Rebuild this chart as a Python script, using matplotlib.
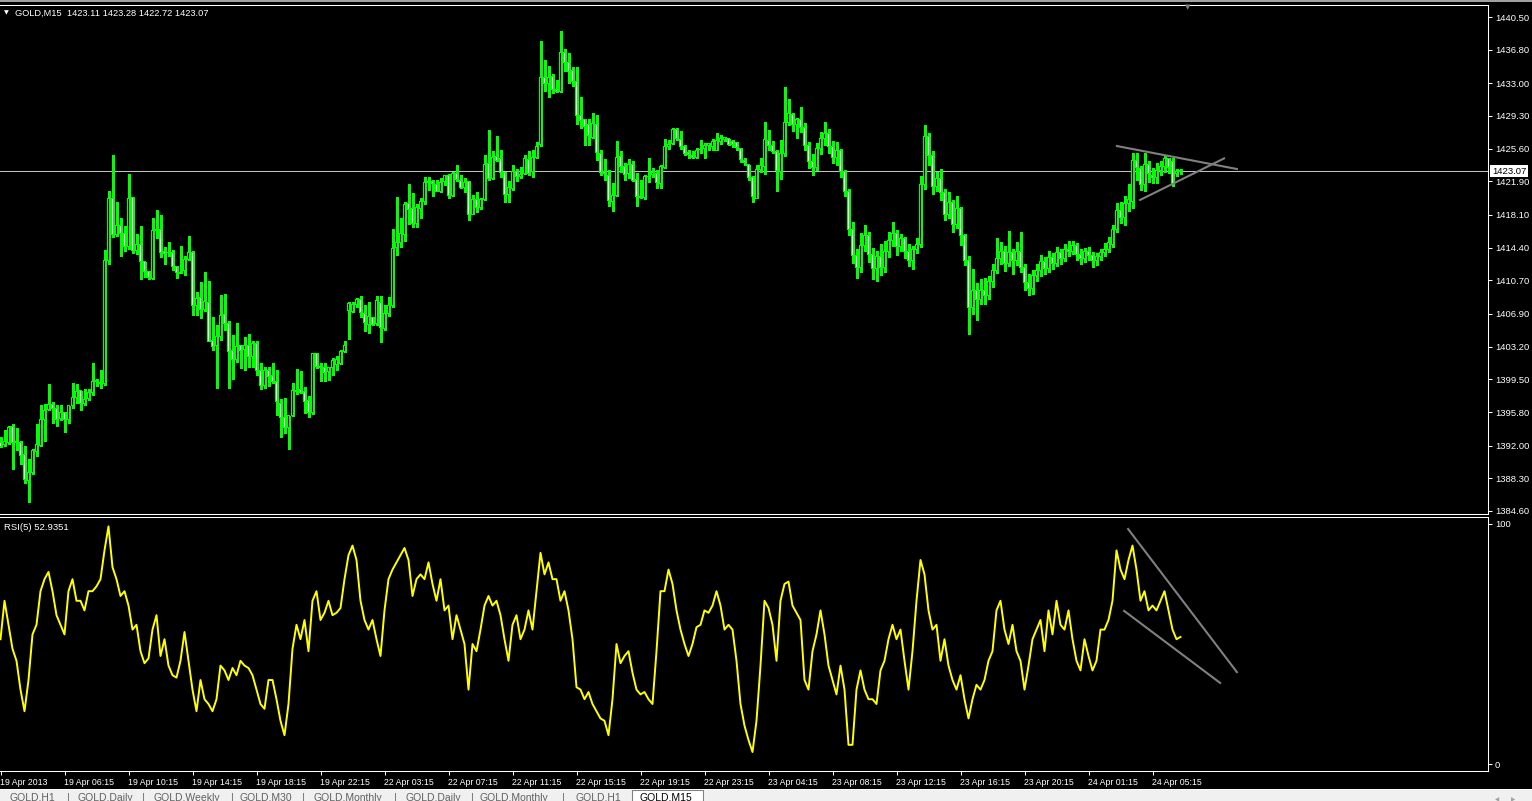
import numpy as np
import matplotlib
matplotlib.use('Agg')
import matplotlib.pyplot as plt
import matplotlib.transforms as mtransforms
from matplotlib.patches import Rectangle
from matplotlib.lines import Line2D

plt.rcParams['font.family'] = ['Liberation Sans', 'DejaVu Sans']

# ---- GOLD M15 candles (one entry per bar, oldest first) ----
opens = [
    1392.4, 1392.1, 1392.4, 1394.2, 1392.4, 1392.4, 1391.0, 1388.1, 1389.0, 1391.3,
    1392.0, 1394.9, 1396.1, 1396.7, 1396.2, 1395.1, 1395.7, 1395.0, 1396.5, 1397.5,
    1398.2, 1396.8, 1397.3, 1398.0, 1399.2, 1399.1, 1399.0, 1413.0, 1420.0, 1415.9,
    1416.9, 1416.0, 1414.5, 1420.1, 1414.1, 1414.8, 1412.8, 1411.7, 1410.9, 1416.4,
    1416.4, 1414.0, 1413.8, 1413.9, 1412.3, 1411.6, 1411.8, 1413.1, 1413.8, 1407.8,
    1408.8, 1407.4, 1408.2, 1403.9, 1403.3, 1404.4, 1406.8, 1405.8, 1402.8, 1401.8,
    1403.3, 1402.9, 1403.3, 1402.1, 1403.6, 1400.5, 1398.8, 1400.5, 1399.9, 1399.2,
    1396.8, 1395.2, 1394.0, 1395.4, 1398.2, 1398.3, 1398.1, 1397.1, 1395.7, 1402.4,
    1400.9, 1400.8, 1400.4, 1400.8, 1401.2, 1401.3, 1402.7, 1407.3, 1407.2, 1408.0,
    1408.5, 1407.0, 1405.7, 1406.5, 1405.8, 1408.2, 1405.2, 1406.9, 1407.9, 1414.4,
    1415.0, 1415.9, 1419.4, 1418.8, 1417.1, 1418.8, 1419.6, 1421.8, 1421.9, 1421.6,
    1420.8, 1421.9, 1422.6, 1420.3, 1422.8, 1422.0, 1421.2, 1421.9, 1418.2, 1419.8,
    1418.9, 1419.9, 1423.9, 1422.2, 1424.7, 1424.5, 1422.9, 1420.4, 1421.1, 1423.0,
    1422.4, 1422.8, 1424.4, 1423.0, 1424.6, 1426.1, 1433.7, 1433.0, 1433.8, 1432.3,
    1432.1, 1436.5, 1435.3, 1434.4, 1433.2, 1429.4, 1428.9, 1428.3, 1426.9, 1428.3,
    1425.1, 1423.0, 1422.6, 1419.6, 1420.3, 1424.7, 1423.6, 1422.8, 1423.8, 1422.1,
    1420.2, 1420.1, 1422.5, 1422.7, 1422.8, 1421.7, 1423.5, 1425.9, 1426.2, 1427.8,
    1426.6, 1425.9, 1425.2, 1424.8, 1424.6, 1425.5, 1425.6, 1426.0, 1425.8, 1425.4,
    1426.4, 1426.6, 1426.7, 1426.4, 1426.3, 1425.6, 1424.3, 1423.8, 1422.3, 1420.0,
    1423.3, 1423.6, 1426.5, 1426.0, 1425.3, 1423.0, 1425.0, 1428.6, 1429.5, 1428.3,
    1428.9, 1428.0, 1426.0, 1424.2, 1423.5, 1425.6, 1426.8, 1427.3, 1425.8, 1424.6,
    1425.4, 1423.0, 1420.8, 1416.5, 1413.5, 1412.2, 1414.6, 1415.8, 1413.6, 1412.0,
    1413.4, 1412.1, 1414.0, 1415.2, 1416.0, 1414.5, 1415.4, 1414.0, 1413.0, 1414.2,
    1414.8, 1421.5, 1427.0, 1424.8, 1421.3, 1422.2, 1420.6, 1418.2, 1419.5, 1417.0,
    1418.8, 1415.8, 1413.0, 1407.6, 1409.6, 1408.5, 1409.5, 1409.0, 1410.6, 1411.8,
    1413.2, 1414.0, 1412.6, 1413.8, 1413.0, 1414.0, 1412.2, 1410.5, 1409.8, 1411.3,
    1411.8, 1412.8, 1412.0, 1413.3, 1412.6, 1413.8, 1413.2, 1414.2, 1414.0, 1414.6,
    1413.6, 1413.2, 1414.0, 1413.5, 1412.9, 1413.4, 1413.8, 1414.2, 1414.8, 1416.5,
    1418.6, 1417.8, 1419.4, 1419.6, 1424.3, 1423.4, 1421.5, 1423.8, 1422.6, 1422.3,
    1423.1, 1423.6, 1424.5, 1424.2, 1422.8, 1423.11,
]
highs = [
    1393.0, 1393.8, 1394.2, 1394.5, 1394.0, 1392.5, 1391.9, 1390.5, 1391.6, 1394.5,
    1396.6, 1396.7, 1399.0, 1396.9, 1396.6, 1396.6, 1395.8, 1396.5, 1399.1, 1399.0,
    1398.2, 1398.4, 1398.4, 1401.3, 1399.5, 1400.6, 1414.1, 1420.8, 1424.9, 1419.6,
    1417.8, 1416.9, 1422.7, 1420.1, 1416.0, 1416.9, 1412.8, 1411.8, 1417.8, 1418.7,
    1418.1, 1414.5, 1415.0, 1414.1, 1412.3, 1414.6, 1413.5, 1415.7, 1414.0, 1409.4,
    1410.5, 1411.7, 1410.6, 1406.6, 1405.7, 1409.0, 1409.2, 1406.1, 1404.5, 1405.9,
    1403.4, 1404.3, 1404.6, 1403.8, 1403.8, 1401.4, 1400.9, 1400.9, 1401.4, 1400.5,
    1397.3, 1397.4, 1395.4, 1399.1, 1400.7, 1400.4, 1398.6, 1397.6, 1402.5, 1402.5,
    1401.3, 1401.3, 1400.9, 1401.9, 1402.1, 1402.8, 1403.8, 1408.2, 1408.2, 1408.7,
    1408.9, 1407.9, 1408.2, 1406.6, 1408.9, 1408.9, 1407.9, 1408.8, 1416.5, 1420.1,
    1417.7, 1419.6, 1421.6, 1420.6, 1419.3, 1420.0, 1422.4, 1422.4, 1422.1, 1422.0,
    1422.3, 1422.6, 1422.7, 1423.0, 1423.8, 1422.6, 1422.3, 1421.9, 1420.4, 1420.7,
    1420.0, 1424.9, 1427.7, 1425.3, 1427.0, 1425.5, 1423.0, 1421.9, 1423.8, 1423.3,
    1423.5, 1424.9, 1425.3, 1425.5, 1426.4, 1437.8, 1435.6, 1435.0, 1434.1, 1433.4,
    1438.9, 1436.9, 1436.4, 1434.9, 1434.8, 1431.4, 1429.0, 1429.0, 1429.6, 1429.4,
    1425.4, 1424.4, 1423.2, 1421.7, 1426.5, 1425.3, 1424.0, 1424.4, 1424.2, 1422.8,
    1422.1, 1422.6, 1424.5, 1423.4, 1423.2, 1423.8, 1426.7, 1426.6, 1427.9, 1427.9,
    1427.6, 1426.0, 1425.4, 1425.3, 1425.7, 1426.6, 1426.3, 1426.3, 1426.7, 1427.4,
    1427.2, 1426.9, 1426.7, 1426.6, 1426.4, 1425.7, 1424.6, 1423.8, 1422.5, 1423.8,
    1424.5, 1428.6, 1427.7, 1426.5, 1425.4, 1426.6, 1432.6, 1431.2, 1429.6, 1429.1,
    1430.3, 1428.5, 1426.4, 1425.0, 1426.2, 1427.5, 1428.6, 1427.8, 1426.5, 1426.4,
    1425.6, 1423.2, 1421.0, 1417.3, 1414.3, 1416.1, 1417.0, 1416.2, 1414.4, 1414.0,
    1414.8, 1415.1, 1416.2, 1417.3, 1416.4, 1416.0, 1415.6, 1414.8, 1414.6, 1415.5,
    1422.5, 1428.3, 1427.4, 1425.3, 1423.0, 1423.3, 1421.0, 1420.7, 1419.8, 1420.2,
    1419.0, 1416.0, 1413.4, 1412.0, 1410.4, 1410.8, 1411.0, 1411.2, 1412.5, 1415.5,
    1415.0, 1414.6, 1416.3, 1414.3, 1415.0, 1416.2, 1412.6, 1411.4, 1411.9, 1412.6,
    1413.6, 1413.3, 1414.0, 1413.8, 1414.5, 1414.2, 1414.8, 1415.1, 1415.2, 1414.9,
    1414.2, 1414.4, 1414.5, 1413.9, 1413.8, 1414.3, 1414.9, 1415.6, 1417.0, 1419.4,
    1419.6, 1420.3, 1421.6, 1425.1, 1425.1, 1423.6, 1425.1, 1424.2, 1423.4, 1424.0,
    1424.2, 1424.8, 1424.6, 1424.5, 1423.3, 1423.28,
]
lows = [
    1391.8, 1392.0, 1392.2, 1389.3, 1391.5, 1389.9, 1387.8, 1385.6, 1388.8, 1390.8,
    1391.9, 1392.5, 1396.0, 1394.6, 1394.2, 1394.9, 1393.5, 1394.6, 1396.3, 1396.8,
    1396.0, 1396.6, 1397.2, 1397.7, 1398.7, 1398.5, 1398.9, 1412.6, 1415.6, 1415.7,
    1413.4, 1414.0, 1414.3, 1413.8, 1413.7, 1410.8, 1411.1, 1410.8, 1410.8, 1415.5,
    1413.3, 1412.6, 1413.4, 1411.9, 1411.0, 1411.5, 1411.3, 1413.0, 1406.8, 1406.8,
    1406.4, 1407.2, 1403.8, 1402.8, 1398.5, 1404.0, 1405.1, 1398.5, 1399.5, 1401.5,
    1400.8, 1400.6, 1400.9, 1400.9, 1400.0, 1398.4, 1398.5, 1398.7, 1399.1, 1395.5,
    1393.0, 1393.4, 1391.6, 1395.3, 1397.8, 1397.9, 1395.7, 1395.2, 1395.6, 1400.8,
    1399.3, 1399.3, 1399.4, 1400.0, 1400.6, 1401.2, 1402.6, 1404.1, 1407.1, 1407.7,
    1406.6, 1405.0, 1404.7, 1405.6, 1405.7, 1403.7, 1405.1, 1406.7, 1407.7, 1413.6,
    1414.5, 1415.2, 1417.1, 1416.7, 1416.7, 1417.7, 1419.3, 1420.9, 1420.2, 1420.8,
    1420.7, 1421.5, 1420.0, 1420.2, 1421.9, 1421.1, 1420.7, 1417.5, 1418.2, 1418.4,
    1418.8, 1419.8, 1422.1, 1422.2, 1424.2, 1422.4, 1419.6, 1419.6, 1420.9, 1421.9,
    1422.3, 1422.7, 1422.6, 1422.4, 1424.5, 1425.9, 1432.1, 1431.4, 1431.9, 1432.0,
    1432.0, 1434.4, 1433.0, 1432.7, 1428.4, 1427.9, 1426.0, 1426.0, 1426.8, 1424.3,
    1422.6, 1422.1, 1419.1, 1418.6, 1420.2, 1423.0, 1422.0, 1422.3, 1421.9, 1419.1,
    1420.0, 1419.9, 1421.8, 1422.4, 1421.1, 1421.1, 1423.4, 1425.6, 1426.1, 1426.6,
    1425.6, 1424.9, 1424.5, 1424.5, 1424.5, 1425.1, 1424.5, 1425.5, 1425.5, 1425.4,
    1426.1, 1426.5, 1426.0, 1425.8, 1425.5, 1424.1, 1423.7, 1422.1, 1419.6, 1420.0,
    1423.0, 1422.7, 1425.5, 1425.1, 1420.8, 1422.2, 1424.8, 1428.3, 1427.6, 1426.8,
    1427.5, 1425.5, 1423.4, 1422.6, 1423.2, 1425.0, 1426.0, 1425.1, 1424.0, 1423.8,
    1422.4, 1420.2, 1415.8, 1412.7, 1411.0, 1411.7, 1414.0, 1412.8, 1410.9, 1410.6,
    1411.3, 1411.6, 1413.3, 1414.6, 1413.6, 1414.0, 1413.2, 1412.3, 1412.0, 1413.8,
    1414.5, 1421.0, 1423.8, 1420.5, 1420.8, 1419.8, 1417.5, 1417.8, 1416.2, 1416.6,
    1414.7, 1412.4, 1404.6, 1406.9, 1406.2, 1408.0, 1408.0, 1408.6, 1410.0, 1411.5,
    1412.5, 1411.8, 1412.3, 1411.4, 1412.4, 1411.6, 1409.6, 1409.0, 1409.2, 1410.6,
    1411.2, 1411.4, 1411.6, 1412.0, 1412.3, 1412.6, 1412.9, 1413.4, 1413.7, 1413.0,
    1412.6, 1412.8, 1413.0, 1412.2, 1412.4, 1413.0, 1413.4, 1413.9, 1414.5, 1416.2,
    1417.2, 1417.0, 1418.6, 1418.9, 1422.1, 1420.9, 1420.8, 1421.8, 1421.7, 1421.7,
    1422.6, 1423.0, 1422.8, 1421.4, 1422.5, 1422.72,
]
closes = [
    1391.9, 1392.5, 1394.0, 1392.3, 1392.5, 1390.9, 1388.2, 1389.0, 1391.5, 1392.1,
    1394.9, 1396.0, 1396.7, 1396.2, 1395.0, 1395.7, 1395.0, 1396.5, 1397.5, 1398.1,
    1396.8, 1397.2, 1398.0, 1399.2, 1399.4, 1399.0, 1413.0, 1420.0, 1415.9, 1416.9,
    1416.0, 1414.5, 1420.0, 1414.1, 1414.8, 1412.8, 1411.7, 1411.0, 1416.3, 1416.3,
    1413.8, 1413.7, 1413.9, 1412.3, 1411.6, 1411.5, 1413.1, 1413.8, 1407.8, 1408.7,
    1407.4, 1408.3, 1403.8, 1403.2, 1404.3, 1406.7, 1405.8, 1402.6, 1401.8, 1403.2,
    1402.8, 1403.3, 1402.1, 1403.5, 1400.5, 1398.8, 1400.5, 1399.8, 1399.2, 1397.0,
    1395.2, 1394.0, 1395.4, 1398.2, 1398.1, 1398.0, 1397.0, 1395.7, 1402.4, 1400.9,
    1400.8, 1400.3, 1400.8, 1401.6, 1401.7, 1402.7, 1403.3, 1408.1, 1408.0, 1408.5,
    1407.1, 1405.9, 1406.6, 1405.7, 1408.4, 1405.4, 1406.9, 1407.9, 1414.3, 1415.0,
    1416.0, 1419.3, 1418.7, 1417.1, 1418.9, 1419.6, 1421.8, 1421.9, 1421.7, 1420.8,
    1421.8, 1422.6, 1420.3, 1422.8, 1422.1, 1421.2, 1421.8, 1418.2, 1419.8, 1418.9,
    1419.9, 1423.8, 1422.2, 1424.6, 1424.3, 1422.9, 1420.4, 1421.2, 1423.0, 1422.4,
    1422.7, 1424.5, 1422.8, 1424.6, 1425.9, 1433.7, 1433.0, 1433.7, 1432.3, 1432.1,
    1436.5, 1435.3, 1434.3, 1433.2, 1429.4, 1428.8, 1428.1, 1427.1, 1428.5, 1425.2,
    1422.9, 1422.8, 1419.7, 1420.3, 1424.6, 1423.6, 1422.7, 1423.8, 1422.0, 1420.2,
    1420.1, 1422.4, 1422.5, 1422.9, 1421.8, 1423.6, 1425.8, 1426.1, 1427.8, 1426.7,
    1425.9, 1425.1, 1424.9, 1424.6, 1425.4, 1425.5, 1426.0, 1426.2, 1426.4, 1426.5,
    1426.7, 1426.9, 1426.1, 1426.1, 1425.7, 1424.4, 1424.0, 1422.3, 1420.2, 1423.3,
    1423.7, 1426.6, 1426.0, 1425.3, 1423.1, 1425.0, 1428.6, 1429.6, 1428.3, 1428.9,
    1428.0, 1426.0, 1424.2, 1423.5, 1425.6, 1426.8, 1427.3, 1425.8, 1424.6, 1425.4,
    1423.0, 1420.8, 1416.5, 1413.5, 1412.2, 1414.6, 1415.8, 1413.6, 1412.0, 1413.4,
    1412.1, 1414.0, 1415.2, 1416.0, 1414.5, 1415.4, 1414.0, 1413.0, 1414.2, 1414.8,
    1421.5, 1427.0, 1424.8, 1421.3, 1422.2, 1420.6, 1418.2, 1419.5, 1417.0, 1418.8,
    1415.8, 1413.0, 1407.6, 1409.6, 1408.5, 1409.5, 1409.0, 1410.6, 1411.8, 1413.2,
    1414.0, 1412.6, 1413.8, 1413.0, 1414.0, 1412.2, 1410.5, 1409.8, 1411.3, 1411.8,
    1412.8, 1412.0, 1413.3, 1412.6, 1413.8, 1413.2, 1414.2, 1414.0, 1414.6, 1413.6,
    1413.2, 1414.0, 1413.5, 1412.9, 1413.4, 1413.8, 1414.2, 1415.0, 1416.5, 1418.6,
    1417.8, 1419.4, 1419.8, 1424.3, 1423.5, 1421.5, 1423.8, 1422.8, 1422.3, 1423.1,
    1423.6, 1424.5, 1423.5, 1421.7, 1423.0, 1423.07,
]

# ---- RSI(5) values, one per bar ----
rsi = [
    52, 68, 58, 48, 43, 31, 22, 35, 54, 58,
    72, 77, 80, 72, 62, 58, 54, 72, 77, 68,
    68, 64, 72, 72, 74, 77, 89, 99, 82, 77,
    70, 72, 66, 56, 58, 47, 42, 44, 56, 62,
    45, 52, 41, 37, 36, 43, 55, 43, 31, 22,
    35, 27, 25, 22, 27, 41, 39, 35, 40, 37,
    43, 41, 40, 37, 31, 25, 23, 35, 35, 27,
    18, 12, 25, 48, 58, 52, 60, 47, 68, 72,
    60, 63, 68, 62, 63, 65, 77, 87, 91, 85,
    68, 60, 56, 60, 52, 45, 64, 77, 81, 84,
    87, 90, 85, 70, 77, 79, 77, 84, 75, 68,
    77, 64, 66, 52, 62, 56, 50, 31, 50, 47,
    56, 66, 70, 66, 68, 62, 52, 43, 58, 62,
    52, 56, 64, 56, 72, 88, 79, 84, 77, 77,
    68, 72, 64, 52, 32, 31, 27, 30, 25, 22,
    19, 18, 12, 27, 50, 42, 45, 47, 38, 31,
    29, 30, 27, 25, 47, 72, 72, 81, 75, 64,
    56, 50, 45, 50, 57, 58, 64, 63, 66, 72,
    66, 56, 58, 56, 43, 25, 16, 10, 5, 18,
    41, 68, 65, 58, 43, 68, 75, 76, 66, 63,
    60, 35, 31, 47, 54, 64, 54, 41, 35, 29,
    41, 31, 8, 8, 31, 39, 31, 27, 27, 25,
    39, 43, 52, 58, 52, 56, 43, 31, 47, 68,
    85, 79, 64, 56, 58, 43, 52, 41, 35, 31,
    37, 27, 19, 27, 33, 31, 35, 43, 47, 64,
    68, 56, 50, 58, 47, 43, 31, 41, 52, 56,
    60, 47, 64, 54, 68, 58, 56, 64, 52, 43,
    39, 52, 45, 39, 43, 56, 56, 60, 68, 89,
    81, 77, 85, 91, 81, 68, 72, 64, 66, 64,
    68, 72, 64, 56, 52, 52.9351,
]

# ---- axis ticks / labels ----
price_ticks = [1440.50, 1436.80, 1433.00, 1429.30, 1425.60, 1421.90, 1418.10, 1414.40,
               1410.70, 1406.90, 1403.20, 1399.50, 1395.80, 1392.00, 1388.30, 1384.60]
time_labels = ['19 Apr 2013', '19 Apr 06:15', '19 Apr 10:15', '19 Apr 14:15', '19 Apr 18:15',
               '19 Apr 22:15', '22 Apr 03:15', '22 Apr 07:15', '22 Apr 11:15', '22 Apr 15:15',
               '22 Apr 19:15', '22 Apr 23:15', '23 Apr 04:15', '23 Apr 08:15', '23 Apr 12:15',
               '23 Apr 16:15', '23 Apr 20:15', '24 Apr 01:15', '24 Apr 05:15']
bars_per_label = 16

# user-drawn trend lines: (bar index, value) anchors
price_tl_upper = ([279.1, 309.1], [1425.9, 1423.3])
price_tl_lower = ([284.9, 305.9], [1419.8, 1424.5])
rsi_tl_upper = ([281.9, 309.1], [97.9, 38.3])
rsi_tl_lower = ([280.9, 304.9], [63.8, 33.8])

tab_names = ['GOLD,H1', 'GOLD,Daily', 'GOLD,Weekly', 'GOLD,M30', 'GOLD,Monthly',
             'GOLD,Daily', 'GOLD,Monthly', 'GOLD,H1', 'GOLD,M15']

# ---------------------------------------------------------------
W, H = 1532, 801
GREEN = '#00ff00'
PRICE_LIM = (1384.26, 1441.86)


def box(x0, y0, x1, y1):
    # pixel box (top-left origin) -> figure fraction rect
    return [x0 / W, 1 - y1 / H, (x1 - x0) / W, (y1 - y0) / H]


fig = plt.figure(figsize=(W / 100, H / 100), dpi=100, facecolor='black')
ax = fig.add_axes(box(0, 5, 1488, 514), facecolor='black')
ax_rsi = fig.add_axes(box(0, 517, 1488, 771), facecolor='black')

o = np.array(opens)
h = np.array(highs)
l = np.array(lows)
c = np.array(closes)
x = np.arange(len(c))
up = c >= o
lo = np.minimum(o, c)
hi = np.maximum(o, c)
py = (PRICE_LIM[1] - PRICE_LIM[0]) / 509.0   # one screen pixel in price units

# candles: wick, green 3px body, then 1px interior (black = up, white = down)
ax.vlines(x, l, h, colors=GREEN, lw=0.75, antialiased=False, zorder=2)
ax.bar(x, hi - lo + py, bottom=lo - py / 2, width=0.75, color=GREEN, lw=0,
       antialiased=False, zorder=3)
inner = (hi - lo) > py
for mask, fill in ((inner & up, 'black'), (inner & ~up, 'white')):
    ax.bar(x[mask], (hi - lo - py)[mask], bottom=(lo + py / 2)[mask], width=0.25,
           color=fill, lw=0, antialiased=False, zorder=4)

# bid line and trend lines
ax.axhline(c[-1], color='#c0c0c0', lw=0.75, zorder=1)
for tl in (price_tl_upper, price_tl_lower):
    ax.plot(tl[0], tl[1], color='#808080', lw=1.5, zorder=5)

xmin, xmax = -0.125, 371.875
ax.set_xlim(xmin, xmax)
ax.set_ylim(*PRICE_LIM)
ax.set_xticks([])
ax.yaxis.tick_right()
ax.set_yticks(price_ticks)
ax.set_yticklabels([f'{v:.2f}' for v in price_ticks])
ax.tick_params(axis='y', direction='out', length=3, width=0.75, colors='white',
               labelsize=6.8, pad=2)

trans = mtransforms.blended_transform_factory(ax.transAxes, ax.transData)
ax.text(1.0 + 4 / 1488, c[-1], f'{c[-1]:.2f}', transform=trans, fontsize=6.8,
        color='black', va='center', ha='left', clip_on=False, zorder=10,
        bbox=dict(boxstyle='square,pad=0.2', fc='white', ec='none'))

# RSI pane
ax_rsi.plot(x, rsi, color='#ffff00', lw=1.4, zorder=3)
for tl in (rsi_tl_upper, rsi_tl_lower):
    ax_rsi.plot(tl[0], tl[1], color='#808080', lw=1.5, zorder=4)
ax_rsi.set_xlim(xmin, xmax)
ax_rsi.set_ylim(-2.9, 102.9)
ax_rsi.yaxis.tick_right()
ax_rsi.set_yticks([0, 100])
ax_rsi.set_yticklabels(['0', '100'])
ax_rsi.tick_params(axis='y', direction='out', length=3, width=0.75, colors='white',
                   labelsize=6.8, pad=2)
ax_rsi.set_xticks([bars_per_label * k for k in range(len(time_labels))])
ax_rsi.set_xticklabels(time_labels)
for lbl in ax_rsi.get_xticklabels():
    lbl.set_horizontalalignment('left')
ax_rsi.tick_params(axis='x', direction='out', length=3, width=0.75, colors='white',
                   labelsize=6.3, pad=2)

for a in (ax, ax_rsi):
    a.spines['left'].set_visible(False)
    for s in ('top', 'right', 'bottom'):
        a.spines[s].set_color('white')
        a.spines[s].set_linewidth(0.75)

# header texts
fig.text(6.5 / W, 1 - 13 / H, '\u25bc', color='white', fontsize=4.5,
         ha='center', va='center', family='DejaVu Sans')
fig.text(15 / W, 1 - 13.5 / H,
         f'GOLD,M15  {o[-1]:.2f} {h[-1]:.2f} {l[-1]:.2f} {c[-1]:.2f}',
         color='white', fontsize=6.7, va='center', ha='left')
fig.text(4 / W, 1 - 527 / H, f'RSI(5) {rsi[-1]:.4f}', color='white', fontsize=6.8,
         va='center', ha='left')
fig.text(1188 / W, 1 - 7 / H, '\u25bc', color='#808080', fontsize=5,
         ha='center', va='center', family='DejaVu Sans')

# window chrome: top edge and tab strip
fig.add_artist(Rectangle((0, 1 - 1.5 / H), 1, 1.5 / H, transform=fig.transFigure,
                         fc='#a0a0a0', ec='none'))
fig.add_artist(Rectangle((0, 0), 1, 12 / H, transform=fig.transFigure,
                         fc='#f0f0f0', ec='none'))
fig.add_artist(Rectangle((0, 11 / H), 1, 1 / H, transform=fig.transFigure,
                         fc='#ffffff', ec='none'))
fig.add_artist(Rectangle((632 / W, 0), 71 / W, 11 / H, transform=fig.transFigure,
                         fc='white', ec='#808080', lw=0.75))
tab_x = [10, 78, 153, 240, 313, 405, 480, 575, 640]
sep_x = [68, 143, 232, 303, 395, 472, 563]
for sx in sep_x:
    fig.add_artist(Line2D([sx / W, sx / W], [0, 8 / H], transform=fig.transFigure,
                          color='#808080', lw=0.75))
for k, (tx, name) in enumerate(zip(tab_x, tab_names)):
    active = k == len(tab_names) - 1
    fig.text(tx / W, 1 - 793 / H, name, color='black' if active else '#606060',
             fontsize=7.5, va='top', ha='left')
fig.text(1497 / W, 1 - 800 / H, '\u25c0', color='#a0a0a0', fontsize=4,
         ha='center', va='center', family='DejaVu Sans')
fig.text(1513 / W, 1 - 800 / H, '\u25b6', color='#a0a0a0', fontsize=4,
         ha='center', va='center', family='DejaVu Sans')

fig.savefig('out.png', dpi=100, facecolor='black')
